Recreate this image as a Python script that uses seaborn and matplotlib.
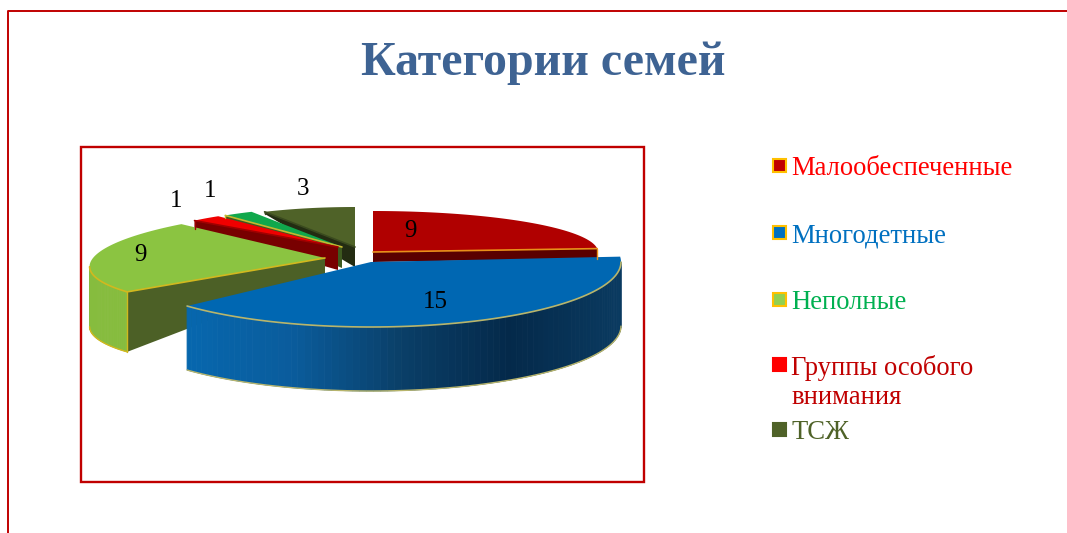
import numpy as np
import matplotlib
matplotlib.use("Agg")
import matplotlib.pyplot as plt
import seaborn as sns
from matplotlib.patches import Rectangle

TITLE = "Категории семей"
# six slices, but the legend in the source only names five of them
VALUES = [9, 15, 9, 1, 1, 3]
LEGEND_LABELS = ["Малообеспеченные", "Многодетные", "Неполные", "Группы особого\nвнимания", "ТСЖ"]

TOP_COLORS = ["#B00000", "#0067B2", "#8BC441", "#F00000", "#10A84C", "#4F6228"]
WALL_COLORS = ["#5A0000", "#0067B2", "#4C6026", "#780000", "#3E5A20", "#232C12"]
ARC_COLORS = ["#5A0000", None, "#86BC3E", "#780000", "#3E5A20", "#232C12"]
EDGE_COLORS = ["#E8901A", "#B8B56C", "#D2B81E", "#A00000", "#C4B830", "#3A4A1E"]
LEGEND_FILL = ["#C00000", "#0070C0", "#92D050", "#FF0000", "#4F6228"]
LEGEND_EDGE = ["#FFC000", "#FFC000", "#FFC000", "#FF0000", "#4F6228"]
LEGEND_TEXT = ["#FF0000", "#0070C0", "#00B050", "#C00000", "#4F6228"]
LEGEND_Y = [166, 233, 300, 365, 430]

# per slice: centre x, centre y, radius x, radius y, shear, wall at rim, wall at tip, visible radial wall
GEOM = [
    (373, 252, 225, 41, 0, 10, 10, "end"),
    (371, 262, 250, 65, 0, 64, 64, None),
    (325, 258, 232, 50, 40, 60, 18, "start"),
    (338, 247, 195, 39, 0, 8, 23, "start"),
    (342, 247, 190, 40, 0, 3, 21, "start"),
    (355, 247, 190, 40, 0, 2, 20, "start"),
]
LABEL_POS = [(410, 231), (435, 302), (140, 255), (176, 201), (210, 191), (303, 189)]

sns.set_theme(style="white")
plt.rcParams["font.family"] = ["Liberation Serif", "DejaVu Serif"]

fig, ax = plt.subplots(figsize=(10.67, 5.33), dpi=100)
ax.set_position([0, 0, 1, 1])
ax.set_xlim(0, 1067)
ax.set_ylim(533, 0)
ax.axis("off")


def rim(g, theta):
    cx, cy, a, b, s = g[:5]
    t = np.radians(theta)
    return cx + a * np.cos(t) + s * np.sin(t), cy - b * np.sin(t)


# slice angles run clockwise from twelve o'clock
shares = np.array(VALUES) / sum(VALUES) * 360
ends = 90 - np.cumsum(shares)
starts = ends + shares
blue_side = sns.blend_palette(["#0767AE", "#0A5C9C", "#0A3F68", "#04294A", "#0A3A60"], as_cmap=True)

# back to front, the big blue slice last
for i in [5, 4, 3, 0, 2, 1]:
    g = GEOM[i]
    cx, cy = g[0], g[1]
    t_rim, t_tip, side = g[5], g[6], g[7]
    thetas = np.linspace(starts[i], ends[i], 90)
    xs, ys = rim(g, thetas)

    if side:
        x0, y0 = rim(g, starts[i] if side == "start" else ends[i])
        ax.fill([x0, cx, cx, x0], [y0, cy, cy + t_tip, y0 + t_rim],
                color=WALL_COLORS[i], lw=0)
        ax.plot([x0, x0], [y0, y0 + t_rim], color=EDGE_COLORS[i], lw=1)

    # outer wall, only where the rim faces the viewer (the shear moves the silhouette point)
    front = np.sin(np.radians(thetas) - np.arctan2(g[4], g[2])) < 0
    if front.any():
        fx, fy = xs[front], ys[front]
        for k in range(len(fx) - 1):
            col = ARC_COLORS[i]
            if col is None:
                col = blue_side((fx[k] - fx.min()) / (fx.max() - fx.min()))
            ax.fill([fx[k], fx[k + 1], fx[k + 1], fx[k]],
                    [fy[k], fy[k + 1], fy[k + 1] + t_rim, fy[k] + t_rim],
                    color=col, lw=0.6)
        ax.plot(fx, fy + t_rim, color=EDGE_COLORS[i], lw=1)

    ax.fill(np.r_[cx, xs], np.r_[cy, ys], color=TOP_COLORS[i], lw=0)
    if side:
        ax.plot([x0, cx], [y0, cy], color=EDGE_COLORS[i], lw=1.2)
    if front.any():
        ax.plot(xs[front], ys[front], color=EDGE_COLORS[i], lw=1.2)

for val, (lx, ly) in zip(VALUES, LABEL_POS):
    ax.text(lx, ly, str(val), fontsize=18, color="black", ha="center", va="center")

ax.text(543, 63, TITLE, fontsize=34.5, fontweight="bold", color="#3E6393", ha="center", va="center")

# slide frame and chart frame
ax.plot([8, 8, 1067], [533, 11, 11], color="#C00000", lw=1.4)
ax.add_patch(Rectangle((81, 147), 563, 335, fill=False, ec="#C00000", lw=1.7))

for label, fill, edge, txt, y in zip(LEGEND_LABELS, LEGEND_FILL, LEGEND_EDGE, LEGEND_TEXT, LEGEND_Y):
    ax.add_patch(Rectangle((773, y - 7), 13, 13, fc=fill, ec=edge, lw=1.5))
    ax.text(791, y - 10, label, fontsize=19.2, color=txt, ha="left", va="top", linespacing=1.2)

fig.savefig("out.png", dpi=100, facecolor="white")
